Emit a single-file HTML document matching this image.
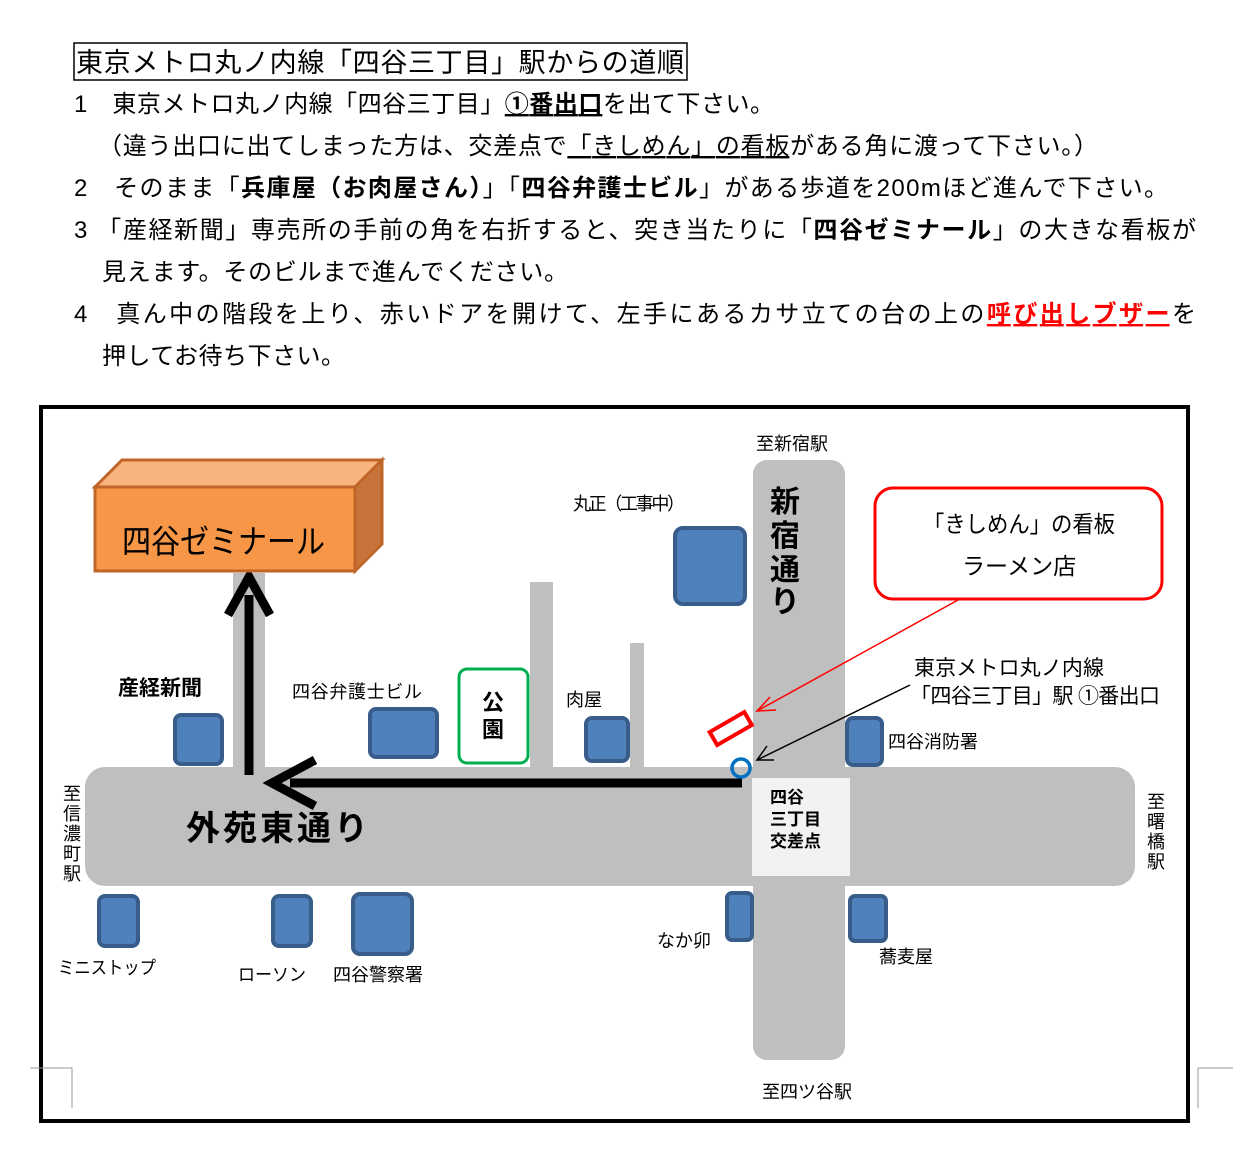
<!DOCTYPE html>
<html><head><meta charset="utf-8"><style>
body{margin:0;background:#fff;}
svg text{font-family:"Liberation Sans","Noto Sans CJK JP",sans-serif;}
</style></head><body>
<svg width="1233" height="1165" viewBox="0 0 1233 1165" xmlns="http://www.w3.org/2000/svg">
<rect width="1233" height="1165" fill="#fff"/>
<rect x="74" y="43" width="613" height="37" fill="none" stroke="#000" stroke-width="1.5"/>
<text x="76" y="72" font-size="27" textLength="608" lengthAdjust="spacing">東京メトロ丸ノ内線「四谷三丁目」駅からの道順</text>
<g font-size="24" fill="#000">
<text x="74" y="112" textLength="700" lengthAdjust="spacing">1　東京メトロ丸ノ内線「四谷三丁目」<tspan font-weight="bold" text-decoration="underline">①番出口</tspan>を出て下さい。</text>
<text x="98" y="154" textLength="1000" lengthAdjust="spacing">（違う出口に出てしまった方は、交差点で<tspan text-decoration="underline">「きしめん」の看板</tspan>がある角に渡って下さい。）</text>
<text x="74" y="196" textLength="1094" lengthAdjust="spacing">2　そのまま「<tspan font-weight="bold">兵庫屋（お肉屋さん）</tspan>」「<tspan font-weight="bold">四谷弁護士ビル</tspan>」がある歩道を200mほど進んで下さい。</text>
<text x="74" y="238" textLength="1122" lengthAdjust="spacing">3 「産経新聞」専売所の手前の角を右折すると、突き当たりに「<tspan font-weight="bold">四谷ゼミナール</tspan>」の大きな看板が</text>
<text x="102" y="280" textLength="466" lengthAdjust="spacing">見えます。そのビルまで進んでください。</text>
<text x="74" y="322" textLength="1122" lengthAdjust="spacing">4　真ん中の階段を上り、赤いドアを開けて、左手にあるカサ立ての台の上の<tspan fill="#ff0000" font-weight="bold" text-decoration="underline">呼び出しブザー</tspan>を</text>
<text x="102" y="364" textLength="243" lengthAdjust="spacing">押してお待ち下さい。</text>
</g>
<rect x="41" y="407" width="1147" height="714" fill="none" stroke="#000" stroke-width="4"/>
<rect x="530" y="582" width="23" height="200" fill="#bfbfbf"/>
<rect x="630" y="643" width="14" height="140" fill="#bfbfbf"/>
<rect x="233" y="573" width="32" height="210" fill="#bfbfbf"/>
<rect x="753" y="460" width="92" height="600" rx="14" fill="#bfbfbf"/>
<rect x="85" y="767" width="1050" height="119" rx="20" fill="#bfbfbf"/>
<rect x="752" y="778" width="98" height="98" fill="#f2f2f2"/>
<g font-size="17" font-weight="bold"><text x="770" y="803">四谷</text><text x="770" y="825">三丁目</text><text x="770" y="847">交差点</text></g>
<path d="M742 783H290" stroke="#000" stroke-width="9"/>
<path d="M315 760L272 783L315 806" fill="none" stroke="#000" stroke-width="9"/>
<path d="M249 775V595" stroke="#000" stroke-width="9"/>
<path d="M228 615L249 577L270 615" fill="none" stroke="#000" stroke-width="9"/>
<path d="M95 487L122 460H382L355 487Z" fill="#f9b37c" stroke="#c0652a" stroke-width="3"/>
<path d="M355 487L382 460V544L355 571Z" fill="#c8733a" stroke="#c0652a" stroke-width="3"/>
<rect x="95" y="487" width="260" height="84" fill="#f79646" stroke="#c0652a" stroke-width="3"/>
<text x="122" y="553" font-size="33" textLength="203" lengthAdjust="spacingAndGlyphs">四谷ゼミナール</text>
<g fill="#4f81bd" stroke="#385d8a" stroke-width="4">
<rect x="675" y="528" width="70" height="76" rx="8"/>
<rect x="175" y="715" width="47" height="49" rx="6"/>
<rect x="370" y="709" width="67" height="48" rx="6"/>
<rect x="586" y="718" width="42" height="43" rx="6"/>
<rect x="847" y="718" width="35" height="47" rx="6"/>
<rect x="99" y="896" width="39" height="50" rx="6"/>
<rect x="273" y="896" width="38" height="50" rx="6"/>
<rect x="353" y="894" width="59" height="60" rx="7"/>
<rect x="727" y="893" width="25" height="47" rx="5"/>
<rect x="850" y="896" width="36" height="45" rx="5"/>
</g>
<rect x="459" y="669" width="69" height="94" rx="8" fill="#fff" stroke="#00b050" stroke-width="3"/>
<g font-size="22" font-weight="bold"><text x="482" y="710">公</text><text x="482" y="737">園</text></g>
<g font-size="18">
<text x="756" y="450">至新宿駅</text>
<text x="573" y="510" textLength="112">丸正（工事中）</text>
<text x="292" y="698" textLength="130">四谷弁護士ビル</text>
<text x="566" y="706">肉屋</text>
<text x="888" y="748">四谷消防署</text>
<text x="657" y="947">なか卯</text>
<text x="879" y="963">蕎麦屋</text>
<text x="58" y="974" textLength="98" lengthAdjust="spacingAndGlyphs">ミニストップ</text>
<text x="238" y="981" textLength="68" lengthAdjust="spacingAndGlyphs">ローソン</text>
<text x="333" y="981">四谷警察署</text>
<text x="762" y="1098">至四ツ谷駅</text>
</g>
<text x="118" y="695" font-size="21" font-weight="bold">産経新聞</text>
<g font-size="18"><text x="63" y="800">至</text><text x="63" y="820">信</text><text x="63" y="840">濃</text><text x="63" y="860">町</text><text x="63" y="880">駅</text>
<text x="1147" y="808">至</text><text x="1147" y="828">曙</text><text x="1147" y="848">橋</text><text x="1147" y="868">駅</text></g>
<text x="186" y="840" font-size="34" font-weight="bold" textLength="182" lengthAdjust="spacing">外苑東通り</text>
<g font-size="30" font-weight="bold"><text x="770" y="512">新</text><text x="770" y="546">宿</text><text x="770" y="580">通</text><text x="770" y="612">り</text></g>
<rect x="875" y="488" width="287" height="111" rx="18" fill="#fff" stroke="#f00" stroke-width="3"/>
<text x="923" y="532" font-size="23" textLength="192" lengthAdjust="spacingAndGlyphs">「きしめん」の看板</text>
<text x="962" y="574" font-size="23">ラーメン店</text>
<path d="M958 600L757 711" stroke="#f00" stroke-width="1.5"/>
<path d="M770 697L757 711L776 710" fill="none" stroke="#f00" stroke-width="1.5"/>
<rect x="711" y="721" width="40" height="15" fill="none" stroke="#f00" stroke-width="4" transform="rotate(-30 731 729)"/>
<text x="914" y="675" font-size="21" textLength="190">東京メトロ丸ノ内線</text>
<text x="910" y="703" font-size="21" textLength="250">「四谷三丁目」駅 ①番出口</text>
<path d="M910 685L757 760" stroke="#000" stroke-width="1.5"/>
<path d="M767 746L757 760L774 760" fill="none" stroke="#000" stroke-width="1.5"/>
<circle cx="741" cy="768" r="9" fill="none" stroke="#0070c0" stroke-width="3.5"/>
<path d="M30 1068H72V1108M1233 1068H1198V1108" fill="none" stroke="#999" stroke-width="1"/>
</svg>
</body></html>
